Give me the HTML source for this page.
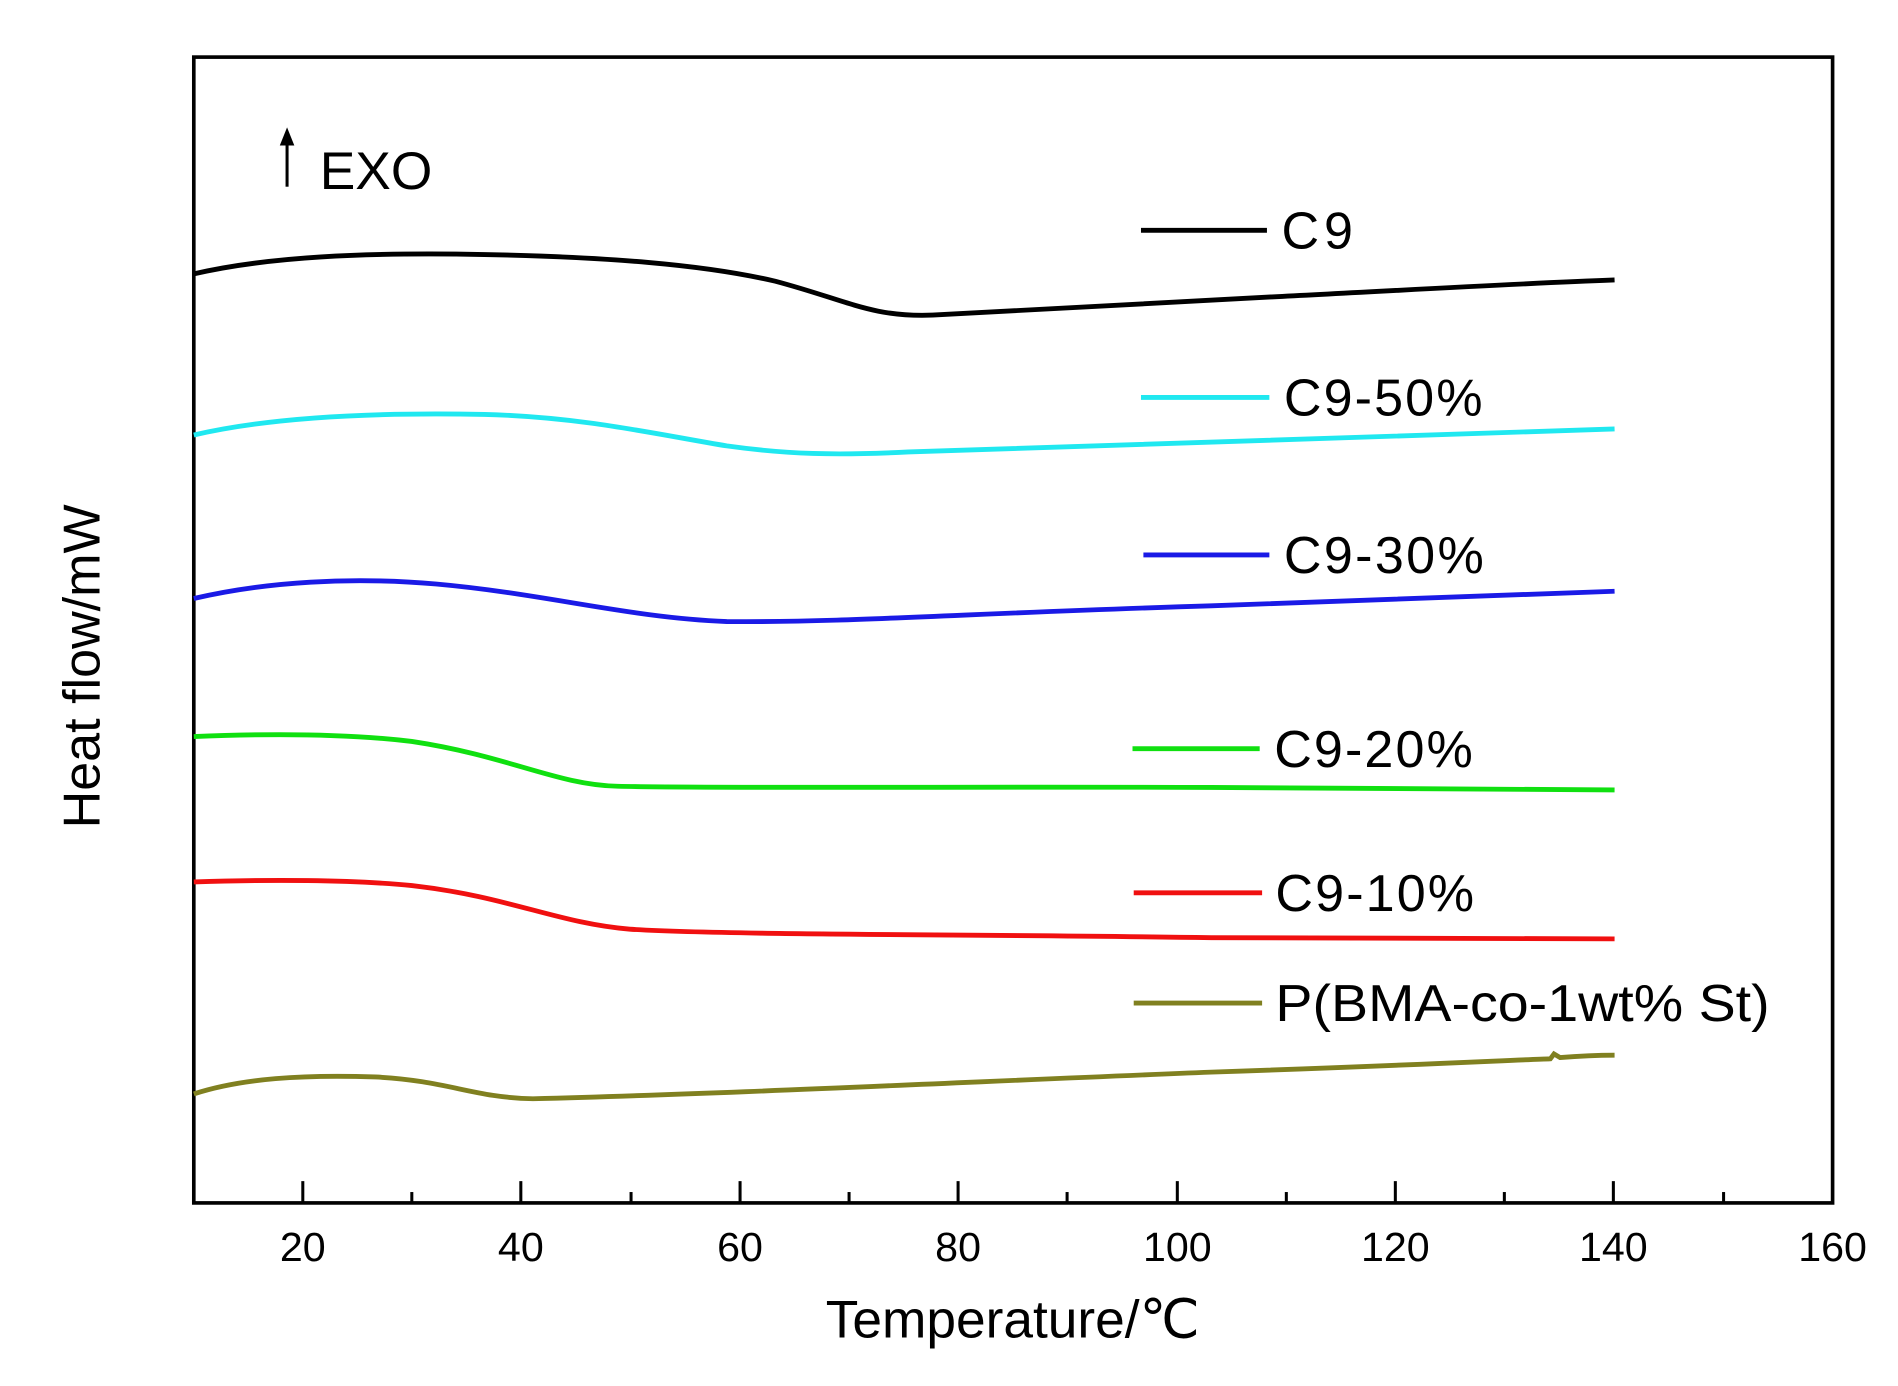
<!DOCTYPE html>
<html><head><style>html,body{margin:0;padding:0;background:#fff}svg{display:block}</style></head>
<body>
<svg width="1898" height="1386" viewBox="0 0 1567 1144" xmlns="http://www.w3.org/2000/svg" font-family="Liberation Sans, sans-serif">
<rect x="160" y="47" width="1353" height="946" fill="none" stroke="#000" stroke-width="3"/>
<g stroke="#000" stroke-width="2.5">
<line x1="250" y1="993" x2="250" y2="975"/><line x1="430" y1="993" x2="430" y2="975"/><line x1="611" y1="993" x2="611" y2="975"/><line x1="791" y1="993" x2="791" y2="975"/><line x1="972" y1="993" x2="972" y2="975"/><line x1="1152" y1="993" x2="1152" y2="975"/><line x1="1332" y1="993" x2="1332" y2="975"/>
<line x1="340" y1="993" x2="340" y2="984"/><line x1="521" y1="993" x2="521" y2="984"/><line x1="701" y1="993" x2="701" y2="984"/><line x1="881" y1="993" x2="881" y2="984"/><line x1="1062" y1="993" x2="1062" y2="984"/><line x1="1242" y1="993" x2="1242" y2="984"/><line x1="1423" y1="993" x2="1423" y2="984"/>
</g>
<g font-size="34" text-anchor="middle" fill="#000">
<text x="250" y="1041">20</text><text x="430" y="1041">40</text><text x="611" y="1041">60</text><text x="791" y="1041">80</text><text x="972" y="1041">100</text><text x="1152" y="1041">120</text><text x="1332" y="1041">140</text><text x="1513" y="1041">160</text>
<text x="836" y="1104" font-size="44">Temperature/℃</text>
<text transform="translate(82,550) rotate(-90)" font-size="43">Heat flow/mW</text>
</g>
<line x1="237" y1="154" x2="237" y2="115" stroke="#000" stroke-width="2.5"/>
<polygon points="231,120 237,105 243,120" fill="#000"/>
<text x="264" y="156" font-size="44">EXO</text>
<g fill="none" stroke-width="4">
<path d="M160,226 C220,212 300,208 400,210 C500,212 580,218 640,232 C700,248 720,262 770,260 C850,256 950,250 1050,245 C1150,240 1250,234 1333,231" stroke="#000"/>
<path d="M160,359 C220,345 300,340 400,342 C480,344 540,358 600,368 C650,375 690,376 750,373 C900,368 1050,362 1333,354" stroke="#20e8f0"/>
<path d="M160,494 C220,480 290,476 360,482 C450,490 520,510 600,513 C700,514 800,506 1000,500 C1150,495 1250,490 1333,488" stroke="#1a1ae6"/>
<path d="M160,608 C230,605 290,606 340,612 C420,624 460,648 510,649 C600,651 800,649 1000,650 C1150,651 1250,652 1333,652" stroke="#10e010"/>
<path d="M160,728 C220,726 290,726 340,731 C420,740 460,762 520,767 C600,772 800,771 1000,774 C1150,775 1250,775 1333,775" stroke="#f01010"/>
<path d="M160,903 C200,890 250,887 310,889 C370,892 390,906 440,907 C600,903 800,893 1000,885 C1150,880 1250,875 1280,874 L1283,870 L1288,873 C1300,872 1320,871 1333,871" stroke="#808020"/>
</g>
<g stroke-width="4">
<line x1="942" y1="190" x2="1046" y2="190" stroke="#000"/>
<line x1="942" y1="328" x2="1048" y2="328" stroke="#20e8f0"/>
<line x1="944" y1="458" x2="1048" y2="458" stroke="#1a1ae6"/>
<line x1="935" y1="618" x2="1040" y2="618" stroke="#10e010"/>
<line x1="936" y1="737" x2="1042" y2="737" stroke="#f01010"/>
<line x1="936" y1="828" x2="1042" y2="828" stroke="#808020"/>
</g>
<g font-size="43" fill="#000" lengthAdjust="spacingAndGlyphs">
<text x="1058" y="205" textLength="59">C9</text>
<text x="1060" y="343" textLength="164">C9-50%</text>
<text x="1060" y="473" textLength="165">C9-30%</text>
<text x="1052" y="633" textLength="164">C9-20%</text>
<text x="1053" y="752" textLength="164">C9-10%</text>
<text x="1053" y="843" textLength="408" lengthAdjust="spacingAndGlyphs">P(BMA-co-1wt% St)</text>
</g>
</svg>
</body></html>
